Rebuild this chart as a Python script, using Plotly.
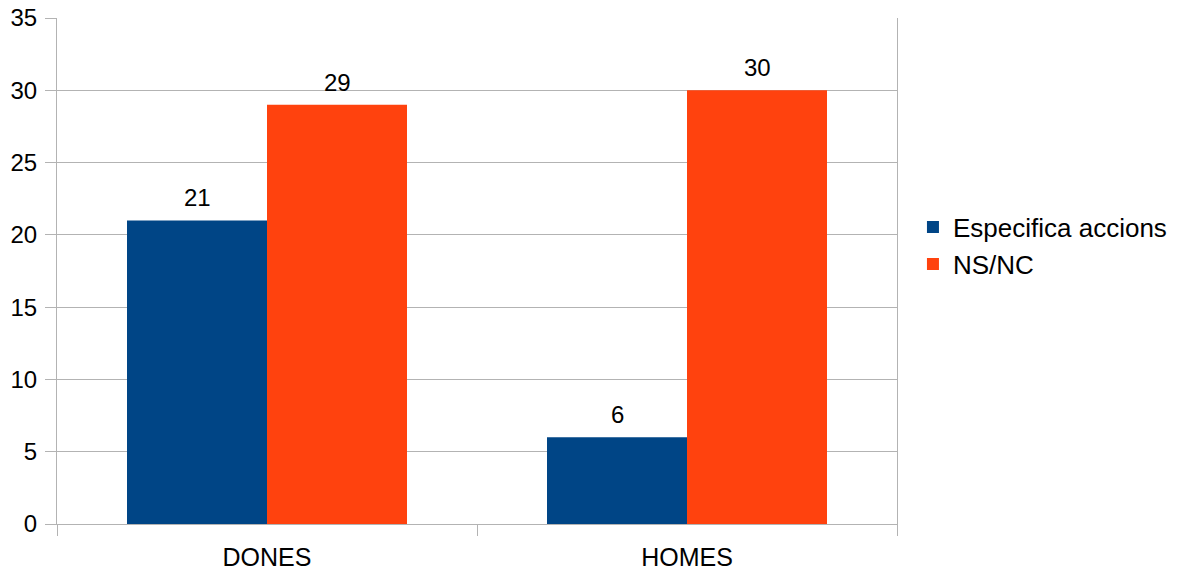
import plotly.graph_objects as go

categories = ["DONES", "HOMES"]
especifica = [21, 6]
nsnc = [29, 30]
series_names = ["Especifica accions", "NS/NC"]
series_colors = ["#004586", "#ff420e"]
y_ticks = [0, 5, 10, 15, 20, 25, 30, 35]

font = dict(family="Liberation Sans, Arial, sans-serif", size=24, color="#000000")
xfont = dict(family="Liberation Sans, Arial, sans-serif", size=25, color="#000000")
legend_font = dict(family="Liberation Sans, Arial, sans-serif", size=26, color="#000000")
grid = "#b3b3b3"

fig = go.Figure()
all_series = [especifica, nsnc]
for name, vals, col in zip(series_names, all_series, series_colors):
    fig.add_trace(go.Bar(x=categories, y=vals, name=name,
                         marker=dict(color=col, line=dict(width=0))))

# value labels above bars
n = len(all_series)
bar_px = 140
for i, vals in enumerate(all_series):
    for cat, v in zip(categories, vals):
        fig.add_annotation(x=cat, y=v, text=str(v), showarrow=False,
                           xref="x", yref="y", yanchor="bottom",
                           xshift=(i - (n - 1) / 2) * bar_px, yshift=7,
                           font=font)

fig.update_layout(
    width=1177, height=572,
    margin=dict(l=57, r=280, t=18, b=48, autoexpand=False),
    paper_bgcolor="white", plot_bgcolor="white",
    barmode="group", bargap=1/3, bargroupgap=0,
    font=font,
    showlegend=True,
    legend=dict(x=1.019, y=0.55, xanchor="left", yanchor="middle",
                font=legend_font, itemsizing="constant", tracegroupgap=0,
                bgcolor="rgba(0,0,0,0)"),
    xaxis=dict(type="category", tickson="boundaries", ticks="outside", ticklen=11,
               tickcolor=grid, tickwidth=1, showgrid=False, showline=True,
               linecolor=grid, linewidth=1, tickfont=xfont, zeroline=False,
               automargin=False, ticklabelstandoff=11),
    yaxis=dict(range=[0, 35], tickvals=y_ticks, ticks="outside", ticklen=11,
               tickcolor=grid, tickwidth=1, showgrid=True, gridcolor=grid, gridwidth=1,
               showline=True, linecolor=grid, linewidth=1, mirror=True,
               zeroline=False, tickfont=font, automargin=False,
               ticklabelstandoff=3),
)

fig.write_html("out.html", config={"displayModeBar": False},
               post_script="document.body.style.margin='0px';document.body.style.overflow='hidden';")
